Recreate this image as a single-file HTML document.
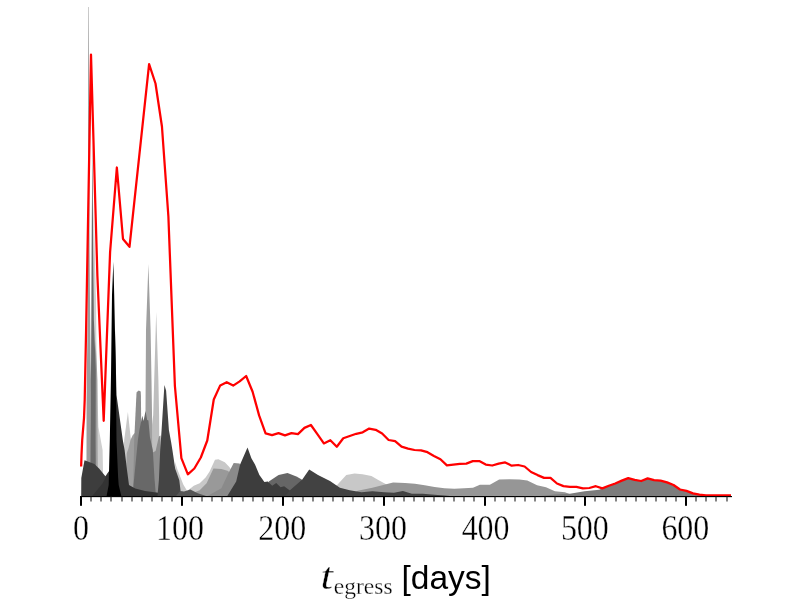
<!DOCTYPE html>
<html><head><meta charset="utf-8"><style>
html,body{margin:0;padding:0;background:#fff;}
svg{display:block;will-change:transform;}
.tl{font-family:"Liberation Serif",serif;font-size:35.5px;fill:#000;stroke:#fff;stroke-width:0.35px;}
</style></head><body>
<svg width="812" height="612" viewBox="0 0 812 612">
<rect width="812" height="612" fill="#fff"/>
<g shape-rendering="geometricPrecision">
<polygon fill="#cfcfcf" points="93.5,200.0 96.0,300.0 96.6,360.0 97.6,400.0 98.4,427.0 102.6,450.0 103.5,496.0 95.5,496.0 93.2,300.0"/>
<polygon fill="#c8c8c8" points="127.9,412.0 130.9,440.0 132.5,470.0 133.0,496.0 120.0,496.0 124.2,440.0"/>
<polygon fill="#bebebe" points="156.2,312.0 158.4,380.0 159.1,415.0 159.3,440.0 160.0,496.0 152.0,496.0 152.1,425.0 153.2,415.0 154.2,380.0"/>
<polygon fill="#c8c8c8" points="175.0,462.0 177.6,470.0 183.3,484.5 187.2,491.0 193.8,485.8 199.7,483.3 205.6,477.4 209.6,471.5 215.0,459.7 218.4,459.2 224.8,462.2 229.3,467.1 233.0,472.0 236.0,496.0 176.0,496.0"/>
<polygon fill="#c8c8c8" points="333.0,488.0 337.4,484.8 346.3,475.0 354.6,473.5 362.5,474.3 371.4,476.0 378.3,479.9 385.2,483.8 392.0,487.0 392.0,496.0 333.0,496.0"/>
<polygon fill="#9c9c9c" points="88.3,7.0 88.8,7.0 89.6,250.0 90.0,300.0 90.6,360.0 91.0,380.0 90.5,440.0 91.0,496.0 86.4,496.0 86.6,400.0 86.9,370.0 87.6,320.0 88.0,250.0 88.1,60.0"/>
<polygon fill="#a0a0a0" points="95.5,340.0 97.0,370.0 97.4,380.0 97.6,440.0 98.0,496.0 94.0,496.0 94.5,370.0"/>
<polygon fill="#a0a0a0" points="148.4,264.0 150.6,330.0 151.5,380.0 152.1,420.0 152.5,496.0 144.0,496.0 145.3,440.0 146.0,330.0"/>
<polygon fill="#9e9e9e" points="126.8,453.0 128.3,448.9 130.5,440.0 132.7,435.3 135.7,432.0 137.0,496.0 125.0,496.0"/>
<polygon fill="#8e8e8e" points="150.0,455.0 152.3,452.7 155.6,451.1 158.9,436.4 160.5,435.5 162.0,496.0 150.0,496.0"/>
<polygon fill="#999999" points="190.8,493.7 199.7,490.2 206.6,483.3 213.5,468.6 221.4,469.1 228.3,471.0 233.0,480.0 236.0,496.0 186.0,496.0"/>
<polygon fill="#969696" points="350.0,496.0 357.6,490.7 372.4,487.8 384.2,484.8 393.1,482.4 405.0,482.9 414.9,483.8 424.7,485.3 434.6,487.1 444.4,488.3 454.3,488.8 464.1,488.3 473.0,487.8 479.9,484.8 489.9,484.8 499.2,479.4 509.6,479.2 519.4,479.6 527.3,480.4 537.1,485.3 546.0,487.3 554.9,491.2 564.9,492.2 575.0,496.0"/>
<polygon fill="#8c8c8c" points="138.7,390.5 140.7,391.4 140.9,395.0 141.1,412.7 142.0,496.0 133.0,496.0 134.2,440.0 136.4,395.0 136.6,392.3"/>
<polygon fill="#8a8a8a" points="207.6,496.0 221.4,488.3 228.3,473.5 233.7,462.9 239.6,463.6 242.0,470.0 244.0,496.0"/>
<polygon fill="#7c7c7c" points="540.0,496.0 555.0,494.5 569.8,493.7 584.6,491.2 599.3,489.8 601.7,488.4 608.2,485.8 614.7,483.5 621.1,480.6 627.6,478.1 634.0,479.8 640.5,481.0 647.0,478.4 653.5,480.1 660.0,480.6 666.4,482.4 672.9,485.0 679.4,489.5 685.8,490.9 692.3,493.4 698.8,494.6 705.3,495.5 712.0,496.0"/>
<polygon fill="#6a6a6a" points="92.4,140.0 93.2,250.0 93.9,320.0 95.8,370.0 95.6,440.0 96.0,496.0 90.3,496.0 90.3,440.0 91.0,370.0 91.3,320.0 91.6,250.0"/>
<polygon fill="#686868" points="139.4,430.0 142.3,415.7 143.6,421.0 145.5,411.0 147.2,420.0 148.4,420.5 149.9,437.0 152.8,450.0 154.6,480.0 156.0,496.0 133.0,496.0 133.5,485.0 137.9,440.0"/>
<polygon fill="#666666" points="265.0,496.0 268.8,481.4 278.6,475.0 287.5,473.0 296.4,476.5 301.8,479.4 305.0,496.0"/>
<polygon fill="#3d3d3d" points="81.2,496.0 81.3,478.0 84.5,460.2 94.4,463.9 99.3,468.8 105.4,476.2 109.1,471.0 112.0,496.0"/>
<polygon fill="#333333" points="115.0,330.0 116.5,395.0 119.1,413.5 122.8,440.0 124.6,450.0 127.0,470.0 129.0,485.0 135.2,488.4 145.0,491.0 160.0,493.0 165.0,496.0 92.3,496.0 102.5,483.5 107.6,474.0 110.0,470.0 112.0,400.0"/>
<polygon fill="#444444" points="164.4,384.9 166.1,390.6 168.9,430.0 171.1,442.1 172.4,450.0 175.2,468.8 179.3,480.3 180.6,490.9 182.0,496.0 157.5,496.0 158.9,480.0 160.2,450.0 161.6,430.0"/>
<polygon fill="#555555" points="176.0,496.0 180.2,490.9 184.0,491.5 190.3,489.6 197.7,493.2 204.6,495.6 206.0,496.0"/>
<polygon fill="#3d3d3d" points="227.3,496.0 236.2,481.4 240.1,464.6 247.5,447.4 251.4,458.2 255.0,464.6 259.4,475.0 264.4,481.9 267.8,481.4 272.2,485.8 276.2,483.1 280.6,487.3 284.1,486.3 289.5,490.2 296.4,496.0"/>
<polygon fill="#424242" points="285.0,496.0 290.0,490.2 302.3,479.4 309.2,469.6 318.0,475.0 330.0,480.9 339.9,487.8 349.7,490.2 361.5,492.2 372.4,491.2 384.2,492.2 394.0,492.7 402.9,491.0 411.9,493.7 422.7,493.7 434.6,494.7 444.4,495.4 450.0,496.0"/>
<polygon fill="#000000" points="113.4,261.8 114.2,295.0 115.9,375.0 116.5,440.0 118.1,477.0 118.7,485.0 121.3,496.0 106.6,496.0 108.7,485.0 109.8,440.0 111.0,375.0 112.0,295.0"/>
</g>
<path d="M81.15,466.50 L81.50,455.00 L82.20,440.00 L84.00,418.00 L84.70,400.00 L86.10,330.00 L91.00,54.60 L97.40,276.00 L103.70,420.80 L110.10,252.00 L116.85,167.50 L123.00,239.00 L129.50,246.80 L149.10,64.20 L155.50,83.50 L161.95,126.50 L168.40,216.70 L174.90,386.00 L181.38,458.20 L187.85,474.30 L194.33,468.50 L200.81,457.50 L207.28,440.50 L213.76,399.50 L220.23,385.40 L226.71,382.20 L233.19,385.60 L239.66,381.40 L246.14,376.00 L252.61,391.80 L259.09,415.40 L265.57,433.40 L272.04,435.10 L278.52,433.10 L284.99,435.40 L291.47,433.10 L297.95,434.10 L304.42,427.90 L310.90,425.00 L317.37,434.20 L323.85,443.40 L330.33,440.20 L336.80,446.80 L343.28,438.20 L349.75,436.00 L356.23,433.80 L362.71,432.30 L369.18,428.60 L375.66,429.80 L382.13,433.50 L388.61,440.00 L395.09,441.20 L401.56,446.70 L408.04,448.60 L414.51,450.00 L420.99,450.30 L427.47,452.20 L433.94,455.90 L440.42,459.20 L446.89,465.40 L453.37,464.60 L459.85,463.90 L466.32,463.60 L472.80,461.10 L479.27,461.10 L485.75,464.60 L492.23,465.50 L498.70,463.60 L505.18,462.40 L511.65,465.70 L518.13,465.00 L524.61,466.50 L531.08,472.00 L537.56,475.10 L544.03,477.90 L550.51,477.90 L556.99,483.50 L563.46,486.10 L569.94,486.80 L576.41,486.90 L582.89,488.30 L589.37,488.00 L595.84,486.20 L602.32,488.40 L608.79,485.80 L615.27,483.50 L621.75,480.60 L628.22,478.10 L634.70,479.80 L641.17,481.00 L647.65,478.40 L654.13,480.10 L660.60,480.60 L667.08,482.40 L673.55,485.00 L680.03,489.50 L686.51,490.90 L692.98,493.40 L699.46,494.60 L705.93,495.30 L712.41,495.30 L718.89,495.30 L725.36,495.30 L731.00,495.30" fill="none" stroke="#ff0000" stroke-width="2.25" stroke-linejoin="round" stroke-linecap="butt"/>
<rect x="80" y="496" width="652" height="1.15" fill="#000"/>
<rect x="80.00" y="496.5" width="2" height="9.3" fill="#000"/>
<rect x="90.45" y="496.5" width="1.1" height="5" fill="#222"/>
<rect x="100.45" y="496.5" width="1.1" height="5" fill="#222"/>
<rect x="110.45" y="496.5" width="1.1" height="5" fill="#222"/>
<rect x="121.45" y="496.5" width="1.1" height="5" fill="#222"/>
<rect x="131.45" y="496.5" width="1.1" height="5" fill="#222"/>
<rect x="141.45" y="496.5" width="1.1" height="5" fill="#222"/>
<rect x="151.45" y="496.5" width="1.1" height="5" fill="#222"/>
<rect x="161.45" y="496.5" width="1.1" height="5" fill="#222"/>
<rect x="171.45" y="496.5" width="1.1" height="5" fill="#222"/>
<rect x="181.00" y="496.5" width="2" height="9.3" fill="#000"/>
<rect x="191.45" y="496.5" width="1.1" height="5" fill="#222"/>
<rect x="201.45" y="496.5" width="1.1" height="5" fill="#222"/>
<rect x="211.45" y="496.5" width="1.1" height="5" fill="#222"/>
<rect x="221.45" y="496.5" width="1.1" height="5" fill="#222"/>
<rect x="231.45" y="496.5" width="1.1" height="5" fill="#222"/>
<rect x="242.45" y="496.5" width="1.1" height="5" fill="#222"/>
<rect x="252.45" y="496.5" width="1.1" height="5" fill="#222"/>
<rect x="262.45" y="496.5" width="1.1" height="5" fill="#222"/>
<rect x="272.45" y="496.5" width="1.1" height="5" fill="#222"/>
<rect x="282.00" y="496.5" width="2" height="9.3" fill="#000"/>
<rect x="292.45" y="496.5" width="1.1" height="5" fill="#222"/>
<rect x="302.45" y="496.5" width="1.1" height="5" fill="#222"/>
<rect x="312.45" y="496.5" width="1.1" height="5" fill="#222"/>
<rect x="322.45" y="496.5" width="1.1" height="5" fill="#222"/>
<rect x="332.45" y="496.5" width="1.1" height="5" fill="#222"/>
<rect x="342.45" y="496.5" width="1.1" height="5" fill="#222"/>
<rect x="352.45" y="496.5" width="1.1" height="5" fill="#222"/>
<rect x="363.45" y="496.5" width="1.1" height="5" fill="#222"/>
<rect x="373.45" y="496.5" width="1.1" height="5" fill="#222"/>
<rect x="383.00" y="496.5" width="2" height="9.3" fill="#000"/>
<rect x="393.45" y="496.5" width="1.1" height="5" fill="#222"/>
<rect x="403.45" y="496.5" width="1.1" height="5" fill="#222"/>
<rect x="413.45" y="496.5" width="1.1" height="5" fill="#222"/>
<rect x="423.45" y="496.5" width="1.1" height="5" fill="#222"/>
<rect x="433.45" y="496.5" width="1.1" height="5" fill="#222"/>
<rect x="443.45" y="496.5" width="1.1" height="5" fill="#222"/>
<rect x="453.45" y="496.5" width="1.1" height="5" fill="#222"/>
<rect x="463.45" y="496.5" width="1.1" height="5" fill="#222"/>
<rect x="473.45" y="496.5" width="1.1" height="5" fill="#222"/>
<rect x="484.00" y="496.5" width="2" height="9.3" fill="#000"/>
<rect x="494.45" y="496.5" width="1.1" height="5" fill="#222"/>
<rect x="504.45" y="496.5" width="1.1" height="5" fill="#222"/>
<rect x="514.45" y="496.5" width="1.1" height="5" fill="#222"/>
<rect x="524.45" y="496.5" width="1.1" height="5" fill="#222"/>
<rect x="534.45" y="496.5" width="1.1" height="5" fill="#222"/>
<rect x="544.45" y="496.5" width="1.1" height="5" fill="#222"/>
<rect x="554.45" y="496.5" width="1.1" height="5" fill="#222"/>
<rect x="564.45" y="496.5" width="1.1" height="5" fill="#222"/>
<rect x="574.45" y="496.5" width="1.1" height="5" fill="#222"/>
<rect x="584.00" y="496.5" width="2" height="9.3" fill="#000"/>
<rect x="594.45" y="496.5" width="1.1" height="5" fill="#222"/>
<rect x="605.45" y="496.5" width="1.1" height="5" fill="#222"/>
<rect x="615.45" y="496.5" width="1.1" height="5" fill="#222"/>
<rect x="625.45" y="496.5" width="1.1" height="5" fill="#222"/>
<rect x="635.45" y="496.5" width="1.1" height="5" fill="#222"/>
<rect x="645.45" y="496.5" width="1.1" height="5" fill="#222"/>
<rect x="655.45" y="496.5" width="1.1" height="5" fill="#222"/>
<rect x="665.45" y="496.5" width="1.1" height="5" fill="#222"/>
<rect x="675.45" y="496.5" width="1.1" height="5" fill="#222"/>
<rect x="685.00" y="496.5" width="2" height="9.3" fill="#000"/>
<rect x="695.45" y="496.5" width="1.1" height="5" fill="#222"/>
<rect x="705.45" y="496.5" width="1.1" height="5" fill="#222"/>
<rect x="715.45" y="496.5" width="1.1" height="5" fill="#222"/>
<rect x="726.45" y="496.5" width="1.1" height="5" fill="#222"/>
<g class="tl">
<text transform="translate(81.10,540.3) scale(0.9,1)" text-anchor="middle">0</text>
<text transform="translate(180.00,540.3) scale(0.9,1)" text-anchor="middle">100</text>
<text transform="translate(282.20,540.3) scale(0.9,1)" text-anchor="middle">200</text>
<text transform="translate(383.00,540.3) scale(0.9,1)" text-anchor="middle">300</text>
<text transform="translate(485.60,540.3) scale(0.9,1)" text-anchor="middle">400</text>
<text transform="translate(584.85,540.3) scale(0.9,1)" text-anchor="middle">500</text>
<text transform="translate(685.35,540.3) scale(0.9,1)" text-anchor="middle">600</text>
</g>
<text transform="translate(320.5,589) scale(1.22,1)" font-family="Liberation Serif" font-style="italic" font-size="37px" stroke="#fff" stroke-width="0.3">t</text>
<text x="333.8" y="593.7" font-family="Liberation Serif" font-size="23.5px" stroke="#fff" stroke-width="0.3">egress</text>
<text x="401.5" y="588.5" font-family="Liberation Sans" font-size="33.5px">[days]</text>
</svg>
</body></html>
